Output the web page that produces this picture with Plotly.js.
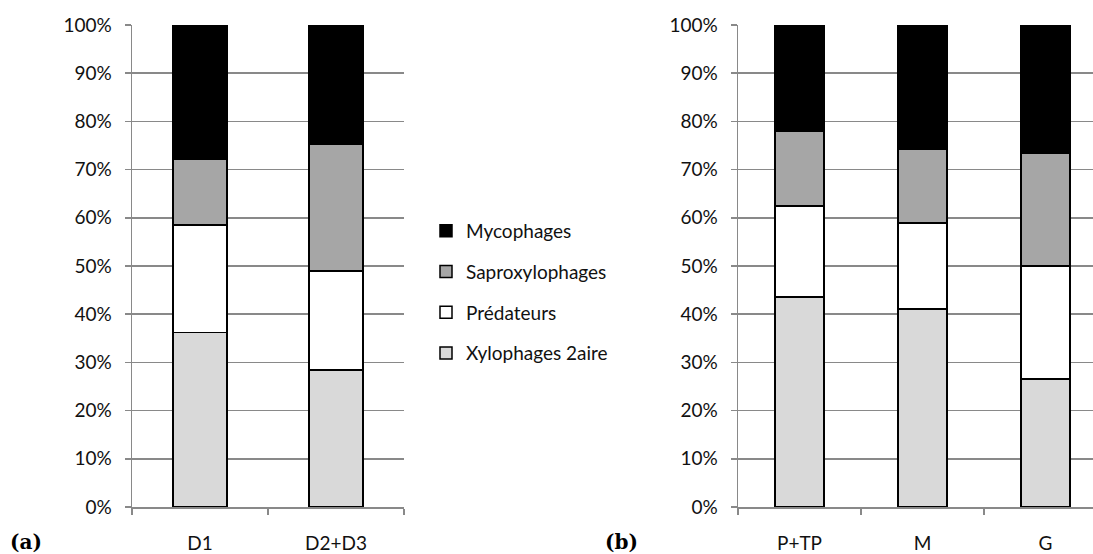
<!DOCTYPE html>
<html>
<head>
<meta charset="utf-8">
<script src="https://cdn.plot.ly/plotly-3.0.1.min.js"></script>
<style>html,body{margin:0;padding:0;background:#fff;}#chart{width:1093px;height:554px;}</style>
</head>
<body>
<div id="chart"></div>
<script>
// ---- data ----
const categoriesA = ["D1", "D2+D3"];
const categoriesB = ["P+TP", "M", "G"];
const seriesNames = ["Xylophages 2aire", "Prédateurs", "Saproxylophages", "Mycophages"];
const seriesColors = ["#d9d9d9", "#ffffff", "#a6a6a6", "#000000"];
const legendRanks = [4, 3, 2, 1];
const xyloA  = [0.362, 0.284];
const predA  = [0.223, 0.206];
const saproA = [0.137, 0.263];
const mycoA  = [0.278, 0.247];
const xyloB  = [0.436, 0.411, 0.266];
const predB  = [0.188, 0.178, 0.234];
const saproB = [0.155, 0.154, 0.233];
const mycoB  = [0.221, 0.257, 0.267];
const yTickVals = [0, 0.1, 0.2, 0.3, 0.4, 0.5, 0.6, 0.7, 0.8, 0.9, 1.0];

const W = 1093, H = 554;
const FONT = "Lato, 'Open Sans', sans-serif";
const FS = 19;
const TXT = "#111";
const GRID = "#898989";

const valsA = [xyloA, predA, saproA, mycoA];
const valsB = [xyloB, predB, saproB, mycoB];
const traces = [];
valsA.forEach((v, i) => traces.push({
  type: "bar", x: categoriesA, y: v, name: seriesNames[i],
  xaxis: "x", yaxis: "y", legendgroup: "g" + i, legendrank: legendRanks[i], showlegend: true,
  marker: {color: seriesColors[i], line: {color: "#000", width: 1.5}},
  hoverinfo: "name+y"
}));
valsB.forEach((v, i) => traces.push({
  type: "bar", x: categoriesB, y: v, name: seriesNames[i],
  xaxis: "x2", yaxis: "y2", legendgroup: "g" + i, legendrank: legendRanks[i], showlegend: false,
  marker: {color: seriesColors[i], line: {color: "#000", width: 1.5}},
  hoverinfo: "name+y"
}));

function yax(anchor) {
  return {
    anchor: anchor, domain: [1 - 507 / H, 1 - 25 / H], range: [0, 1],
    tickvals: yTickVals, tickformat: ".0%",
    showgrid: true, gridcolor: GRID, gridwidth: 1.5,
    showline: true, linecolor: GRID, linewidth: 1.5,
    ticks: "outside", ticklen: 6, tickcolor: GRID, tickwidth: 1.5,
    ticklabelstandoff: 9,
    zeroline: false, fixedrange: true,
    tickfont: {family: FONT, size: FS, color: TXT}
  };
}
function xax(anchor, domain, range) {
  return {
    anchor: anchor, domain: domain, range: range, type: "category",
    showgrid: false, showline: true, linecolor: GRID, linewidth: 1.5,
    ticks: "outside", ticklen: 6, tickcolor: GRID, tickwidth: 1.5,
    tickson: "boundaries", ticklabelstandoff: 19,
    zeroline: false, fixedrange: true,
    tickfont: {family: FONT, size: FS, color: TXT}
  };
}

const layout = {
  width: W, height: H,
  margin: {l: 0, r: 0, t: 0, b: 0},
  paper_bgcolor: "#fff", plot_bgcolor: "rgba(0,0,0,0)",
  barmode: "stack", bargap: 0.6,
  showlegend: true,
  font: {family: FONT, size: FS, color: TXT},
  xaxis: xax("y", [132 / W, 404 / W], [-0.5, 1.5]),
  yaxis: yax("x"),
  xaxis2: xax("y2", [738 / W, 1], [-0.5, -0.5 + (W - 738) / 123]),
  yaxis2: yax("x2"),
  legend: {
    x: 426 / W, xanchor: "left", y: 1 - 292 / H, yanchor: "middle",
    traceorder: "grouped", tracegroupgap: 13,
    font: {family: FONT, size: FS, color: TXT},
    bgcolor: "rgba(0,0,0,0)", borderwidth: 0
  },
  annotations: [
    {text: "<b>(a)</b>", xref: "paper", yref: "paper", x: 8 / W, y: 1 - 542 / H,
     xanchor: "left", yanchor: "middle", showarrow: false,
     font: {family: "'DejaVu Serif', serif", size: 20, color: "#000"}},
    {text: "<b>(b)</b>", xref: "paper", yref: "paper", x: 603 / W, y: 1 - 542 / H,
     xanchor: "left", yanchor: "middle", showarrow: false,
     font: {family: "'DejaVu Serif', serif", size: 20, color: "#000"}}
  ]
};

Plotly.newPlot("chart", traces, layout, {displayModeBar: false, staticPlot: true});
</script>
</body>
</html>
